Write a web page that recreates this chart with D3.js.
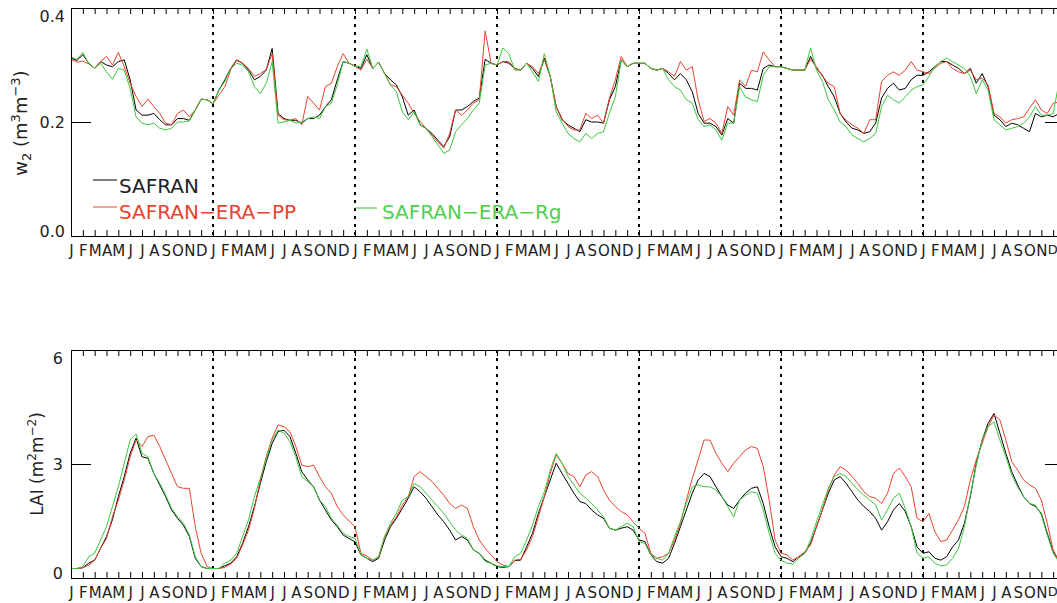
<!DOCTYPE html>
<html>
<head>
<meta charset="utf-8">
<script src="https://cdn.jsdelivr.net/npm/d3@7"></script>
<style>
  html, body { margin: 0; padding: 0; background: #fff; }
  svg { display: block; }
  text { font-family: "DejaVu Sans", "Liberation Sans", sans-serif; fill: #222; }
</style>
</head>
<body>
<svg id="chart" width="1057" height="603"></svg>
<script>
// Month initials for the x axis (one label per month start, 7 years)
const monthLabels = ["J", "F", "M", "A", "M", "J", "J", "A", "S", "O", "N", "D"];
const nYears = 7;
// Samples are taken every half month
const stepMonths = 0.5;

const seriesNames = ["SAFRAN", "SAFRAN\u2212ERA\u2212PP", "SAFRAN\u2212ERA\u2212Rg"];

// Root-zone soil moisture w2 (m3 m-3)
const w2Safran = [
  0.312,0.308,0.318,0.303,0.294,0.306,0.300,0.297,0.306,0.309,0.274,0.221,0.212,0.212,0.215,0.204,0.195,0.195,0.206,0.206,0.203,0.221,0.240,0.239,0.232,
  0.256,0.274,0.294,0.309,0.303,0.291,0.274,0.280,0.291,0.329,0.215,0.206,0.203,0.203,0.198,0.206,0.206,0.212,0.227,0.239,0.274,0.306,0.303,0.298,
  0.294,0.318,0.294,0.305,0.285,0.274,0.265,0.244,0.212,0.221,0.195,0.189,0.180,0.168,0.157,0.174,0.221,0.221,0.227,0.236,0.242,0.310,0.303,0.300,
  0.306,0.303,0.294,0.291,0.303,0.294,0.280,0.312,0.280,0.227,0.204,0.195,0.189,0.183,0.204,0.200,0.200,0.198,0.239,0.262,0.309,0.297,0.303,0.303,
  0.303,0.294,0.291,0.294,0.285,0.274,0.285,0.274,0.253,0.215,0.198,0.198,0.192,0.177,0.206,0.198,0.268,0.259,0.259,0.256,0.294,0.300,0.297,0.297,
  0.294,0.291,0.291,0.291,0.315,0.294,0.282,0.262,0.244,0.215,0.200,0.189,0.186,0.180,0.183,0.198,0.242,0.259,0.268,0.256,0.259,0.274,0.282,0.282,
  0.288,0.297,0.306,0.306,0.300,0.294,0.285,0.294,0.268,0.285,0.262,0.212,0.204,0.192,0.198,0.195,0.189,0.183,0.215,0.209,0.212,0.209,0.215,0.240
];
const w2EraPP = [
  0.310,0.305,0.307,0.302,0.294,0.306,0.315,0.300,0.322,0.297,0.268,0.245,0.227,0.240,0.227,0.215,0.198,0.195,0.215,0.221,0.209,0.221,0.240,0.239,0.232,
  0.247,0.262,0.292,0.308,0.303,0.294,0.280,0.285,0.292,0.320,0.212,0.204,0.203,0.206,0.195,0.245,0.233,0.221,0.262,0.268,0.297,0.320,0.303,0.298,
  0.291,0.310,0.294,0.305,0.285,0.265,0.262,0.247,0.233,0.215,0.201,0.189,0.177,0.165,0.154,0.180,0.221,0.212,0.221,0.233,0.239,0.360,0.303,0.300,
  0.306,0.306,0.294,0.291,0.303,0.297,0.285,0.309,0.280,0.227,0.206,0.192,0.186,0.186,0.215,0.206,0.212,0.198,0.242,0.274,0.315,0.297,0.303,0.303,
  0.303,0.294,0.291,0.294,0.288,0.280,0.306,0.291,0.297,0.239,0.201,0.206,0.198,0.180,0.227,0.212,0.274,0.262,0.291,0.288,0.323,0.309,0.297,0.297,
  0.294,0.291,0.291,0.291,0.310,0.297,0.280,0.268,0.262,0.215,0.203,0.195,0.189,0.180,0.204,0.204,0.271,0.282,0.288,0.282,0.291,0.306,0.291,0.288,
  0.285,0.294,0.303,0.306,0.294,0.288,0.285,0.291,0.274,0.277,0.265,0.215,0.209,0.198,0.204,0.206,0.209,0.224,0.239,0.221,0.215,0.233,0.235,0.260
];
const w2EraRg = [
  0.314,0.310,0.322,0.302,0.294,0.303,0.288,0.275,0.294,0.291,0.259,0.209,0.198,0.195,0.198,0.189,0.186,0.189,0.200,0.200,0.202,0.221,0.240,0.239,0.232,
  0.256,0.271,0.294,0.303,0.300,0.288,0.262,0.250,0.268,0.306,0.198,0.200,0.203,0.198,0.200,0.206,0.209,0.206,0.227,0.233,0.265,0.306,0.303,0.298,
  0.297,0.328,0.294,0.305,0.285,0.265,0.253,0.218,0.204,0.218,0.195,0.189,0.175,0.160,0.145,0.151,0.183,0.195,0.206,0.221,0.233,0.300,0.303,0.300,
  0.330,0.320,0.291,0.291,0.303,0.288,0.271,0.320,0.280,0.218,0.198,0.180,0.171,0.165,0.180,0.171,0.180,0.183,0.215,0.244,0.309,0.297,0.303,0.303,
  0.303,0.294,0.291,0.294,0.274,0.262,0.256,0.239,0.233,0.204,0.192,0.195,0.186,0.168,0.198,0.198,0.262,0.244,0.239,0.236,0.282,0.297,0.297,0.297,
  0.294,0.291,0.291,0.291,0.330,0.291,0.271,0.239,0.221,0.200,0.192,0.177,0.171,0.165,0.171,0.180,0.227,0.247,0.239,0.233,0.244,0.256,0.262,0.265,
  0.280,0.297,0.306,0.312,0.306,0.300,0.294,0.280,0.250,0.274,0.256,0.204,0.195,0.186,0.189,0.192,0.198,0.209,0.227,0.212,0.212,0.215,0.270,0.290
];

// Leaf area index (m2 m-2)
const laiSafran = [
  0.25,0.25,0.27,0.39,0.47,0.78,1.09,1.53,2.14,2.67,3.28,3.68,3.19,3.15,2.75,2.45,2.14,1.79,1.57,1.39,1.09,0.52,0.30,0.25,0.25,
  0.25,0.32,0.39,0.56,0.91,1.35,1.88,2.49,3.06,3.54,3.85,3.89,3.72,3.28,2.80,2.58,2.40,2.05,1.79,1.53,1.35,1.13,1.04,0.95,
  0.61,0.52,0.43,0.52,1.00,1.35,1.57,1.83,2.10,2.40,2.27,2.10,1.88,1.66,1.48,1.26,1.00,1.09,1.00,0.74,0.65,0.47,0.39,0.30,
  0.28,0.30,0.46,0.47,0.82,1.18,1.70,2.14,2.58,3.02,2.75,2.49,2.23,2.01,1.96,1.79,1.66,1.57,1.31,1.26,1.31,1.35,1.26,1.00,
  0.96,0.61,0.43,0.39,0.52,0.91,1.35,1.79,2.23,2.58,2.75,2.67,2.40,2.14,1.92,1.83,2.05,2.23,2.36,2.40,1.96,1.35,0.82,0.56,
  0.52,0.43,0.56,0.65,0.91,1.35,1.79,2.23,2.58,2.67,2.49,2.27,2.05,1.88,1.75,1.57,1.26,1.48,1.79,1.96,1.75,1.35,0.82,0.65,
  0.69,0.52,0.47,0.56,0.82,1.00,1.44,2.14,3.02,3.63,4.07,4.33,3.81,3.28,2.80,2.45,2.14,1.96,1.88,1.70,1.18,0.69,0.45,0.30
];
const laiEraPP = [
  0.25,0.25,0.27,0.34,0.47,0.78,1.04,1.61,2.05,2.58,3.19,3.63,3.46,3.72,3.76,3.46,3.11,2.75,2.40,2.36,2.36,1.35,0.65,0.30,0.25,
  0.25,0.28,0.37,0.52,0.87,1.26,1.83,2.58,3.19,3.68,4.03,3.98,3.85,3.46,2.97,2.93,2.97,2.67,2.40,2.23,1.88,1.66,1.50,1.35,
  0.65,0.58,0.47,0.56,1.09,1.39,1.61,1.92,2.14,2.67,2.80,2.67,2.54,2.36,2.18,1.96,1.83,1.92,1.83,1.35,1.00,0.78,0.61,0.43,
  0.34,0.30,0.47,0.49,0.74,1.09,1.61,2.14,2.75,3.24,3.02,2.75,2.67,2.40,2.71,2.80,2.67,2.32,2.05,1.88,1.75,1.66,1.48,1.31,
  1.18,0.65,0.52,0.56,0.65,1.00,1.44,2.05,2.62,3.11,3.63,3.63,3.28,3.02,2.80,3.02,3.19,3.37,3.46,3.41,2.93,2.05,1.00,0.65,
  0.61,0.47,0.56,0.69,0.87,1.35,1.79,2.32,2.71,2.93,2.84,2.67,2.49,2.27,2.14,2.10,1.96,2.23,2.75,2.89,2.67,2.40,1.57,1.48,
  1.70,1.22,0.96,1.00,1.26,1.53,1.88,2.58,3.11,3.54,3.98,4.29,4.16,3.63,3.06,2.84,2.58,2.45,2.36,2.05,1.44,0.74,0.45,0.30
];
const laiEraRg = [
  0.25,0.25,0.30,0.56,0.65,1.00,1.35,1.88,2.40,3.02,3.63,3.79,3.28,3.19,2.75,2.49,2.18,1.83,1.61,1.44,1.13,0.56,0.30,0.25,0.25,
  0.25,0.39,0.47,0.65,1.09,1.53,2.14,2.62,3.15,3.63,3.89,3.81,3.59,3.19,2.67,2.54,2.40,2.05,1.88,1.57,1.39,1.18,1.09,1.05,
  0.61,0.52,0.47,0.56,1.09,1.44,1.70,2.05,2.14,2.49,2.40,2.23,2.05,1.88,1.70,1.48,1.26,1.13,1.04,0.74,0.65,0.43,0.39,0.32,
  0.30,0.30,0.56,0.65,1.00,1.39,1.88,2.27,2.84,3.28,3.02,2.67,2.45,2.23,2.10,1.96,1.79,1.61,1.31,1.26,1.35,1.44,1.35,0.96,
  0.91,0.61,0.52,0.47,0.65,1.09,1.48,1.96,2.40,2.45,2.40,2.40,2.32,2.14,1.88,1.61,2.05,2.18,2.27,2.23,1.79,1.18,0.65,0.47,
  0.39,0.37,0.52,0.65,1.00,1.48,1.92,2.36,2.67,2.75,2.67,2.49,2.32,2.18,2.05,1.92,1.53,1.79,2.10,2.23,1.83,1.35,0.65,0.52,
  0.56,0.39,0.32,0.34,0.52,0.78,1.35,2.18,2.97,3.63,3.98,4.11,3.63,3.19,2.71,2.40,2.14,1.96,1.92,1.66,1.13,0.65,0.42,0.30
];

const w2Ticks = [0, 0.2, 0.4];
const laiTicks = [0, 3, 6];

// ---- drawing ----
const colors = ["#000000", "#e8432e", "#3cc83c"];
const svg = d3.select("#chart");
const W = +svg.attr("width");

const nMonths = nYears * 12;
const x = d3.scaleLinear().domain([0, nMonths]).range([71, 1065]);
const monthTicks = d3.range(0, nMonths + 1);

function drawPanel(cfg) {
  const y = d3.scaleLinear().domain(cfg.domain).range([cfg.bottom, cfg.top]);
  const g = svg.append("g");

  // year separators
  g.selectAll("line.sep")
    .data(d3.range(12, nMonths, 12))
    .join("line")
    .attr("x1", d => x(d)).attr("x2", d => x(d))
    .attr("y1", cfg.top).attr("y2", cfg.bottom)
    .attr("stroke", "#000").attr("stroke-width", 2)
    .attr("stroke-dasharray", "3,5");

  // series
  const line = d3.line()
    .x((d, i) => x(i * stepMonths))
    .y(d => y(d));
  cfg.series.forEach((s, k) => {
    g.append("path")
      .datum(s)
      .attr("fill", "none")
      .attr("stroke", colors[k])
      .attr("stroke-width", 1)
      .attr("stroke-linejoin", "round")
      .attr("d", line);
  });

  // bottom axis with month initials (labels only where they fall on the page)
  const ax = g.append("g")
    .attr("transform", `translate(0,${cfg.bottom})`)
    .call(d3.axisBottom(x).tickValues(monthTicks)
      .tickSizeInner(-6).tickSizeOuter(0).tickPadding(9)
      .tickFormat(d => x(d) < W ? monthLabels[d % 12] : ""));
  // the last visible initial sits at the page edge: draw it a little smaller
  const edge = d => x(d) + 7 > W && x(d) < W;
  ax.selectAll("text")
    .style("font-size", d => edge(d) ? "13px" : "15px")
    .attr("fill", "#222")
    .attr("x", d => edge(d) ? -0.8 : 0);

  // top axis: ticks only
  g.append("g")
    .attr("transform", `translate(0,${cfg.top})`)
    .call(d3.axisTop(x).tickValues(monthTicks)
      .tickSizeInner(-6).tickSizeOuter(0).tickFormat(""));

  // left axis
  const ay = g.append("g")
    .attr("transform", `translate(${x(0)},0)`)
    .call(d3.axisLeft(y).tickValues(cfg.ticks)
      .tickSizeInner(-20).tickSizeOuter(0).tickPadding(cfg.pad)
      .tickFormat(cfg.fmt));
  ay.selectAll("text").style("font-size", "16px").attr("fill", "#222")
    .attr("y", d => d === cfg.domain[1] ? 8 : (d === cfg.domain[0] ? -5 : 0));

  // right axis: ticks only
  g.append("g")
    .attr("transform", `translate(${x(nMonths)},0)`)
    .call(d3.axisRight(y).tickValues(cfg.ticks)
      .tickSizeInner(-20).tickSizeOuter(0).tickFormat(""));

  g.selectAll(".domain").attr("stroke", "#000");
  g.selectAll(".tick line").attr("stroke", "#000");
  return y;
}

drawPanel({
  domain: [0, 0.4], top: 8, bottom: 236, ticks: w2Ticks, pad: 6,
  fmt: d3.format(".1f"),
  series: [w2Safran, w2EraPP, w2EraRg]
});
drawPanel({
  domain: [0, 6], top: 350, bottom: 578, ticks: laiTicks, pad: 8,
  fmt: d3.format("d"),
  series: [laiSafran, laiEraPP, laiEraRg]
});

// y-axis titles with super/subscripts
function title(tx, ty, size, parts) {
  const t = svg.append("text")
    .attr("transform", `translate(${tx},${ty}) rotate(-90)`)
    .attr("text-anchor", "middle")
    .style("font-size", size + "px");
  parts.forEach(p => {
    const sp = t.append("tspan").text(p.s);
    if (p.dy) sp.attr("dy", p.dy);
    if (p.small) sp.style("font-size", Math.round(size * 0.7) + "px");
  });
}
title(27, 123, 18, [
  { s: "w" }, { s: "2", dy: 4, small: true },
  { s: " (m", dy: -4 }, { s: "3", dy: -7, small: true },
  { s: "m", dy: 7 }, { s: "\u22123", dy: -7, small: true },
  { s: ")", dy: 7 }
]);
title(43, 464, 17, [
  { s: "LAI (m" }, { s: "2", dy: -7, small: true },
  { s: "m", dy: 7 }, { s: "\u22122", dy: -7, small: true },
  { s: ")", dy: 7 }
]);

// legend
const legendItems = [
  { x1: 93, x2: 117, ly: 180, tx: 119, ty: 193 },
  { x1: 93, x2: 117, ly: 207, tx: 119, ty: 219 },
  { x1: 355, x2: 377, ly: 208, tx: 382, ty: 219 }
];
const textColors = ["#222", "#e8432e", "#4fcf4f"];
legendItems.forEach((p, k) => {
  svg.append("line")
    .attr("x1", p.x1).attr("x2", p.x2).attr("y1", p.ly).attr("y2", p.ly)
    .attr("stroke", colors[k]).attr("stroke-width", 1);
  svg.append("text")
    .attr("x", p.tx).attr("y", p.ty)
    .style("font-size", "20px")
    .style("fill", textColors[k])
    .text(seriesNames[k]);
});
</script>
</body>
</html>
